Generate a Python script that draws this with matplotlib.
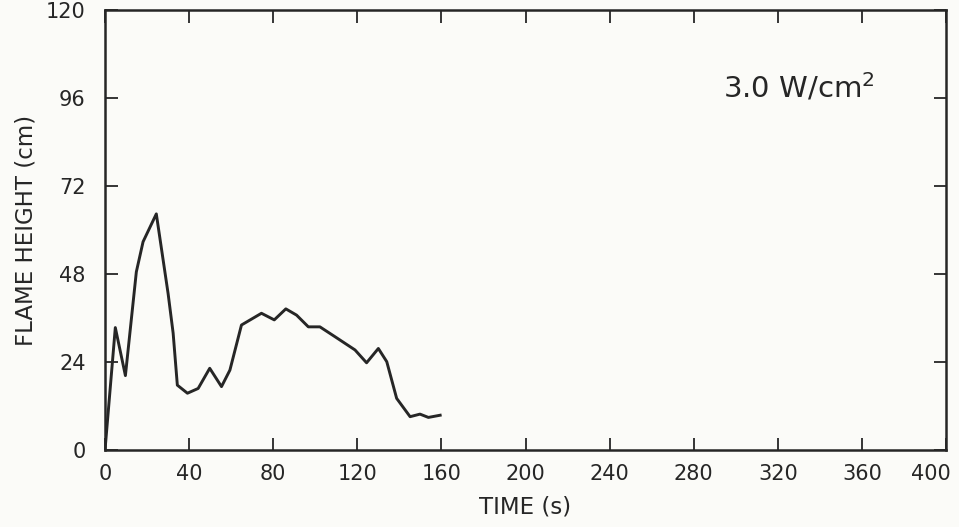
import matplotlib

matplotlib.use("Agg")
import matplotlib.pyplot as plt
from matplotlib.transforms import offset_copy

# flame height history at 3.0 W/cm2
time_s = [0, 4.9, 9.7, 14.9, 18.1, 24.4, 30, 32.4, 34.4, 39.2, 44.3, 49.8, 55.4,
          59.4, 64.9, 74.4, 80.5, 86.0, 91.1, 96.7, 102.2, 109.4, 118.9, 124.4,
          130, 134, 138.7, 145.1, 149.8, 153.8, 159.4]
height_cm = [0, 33.4, 20.3, 48.6, 56.8, 64.4, 42.7, 31.9, 17.7, 15.5, 16.8, 22.3,
             17.3, 21.8, 34.1, 37.3, 35.5, 38.5, 36.8, 33.6, 33.6, 30.9, 27.3, 23.8,
             27.7, 24.1, 14.1, 9.1, 9.8, 8.9, 9.5]
x_ticks = list(range(0, 401, 40))
y_ticks = list(range(0, 121, 24))

INK = "#262626"
PAPER = "#fbfbf8"

plt.rcParams["font.family"] = ["DejaVu Sans"]

fig = plt.figure(figsize=(9.59, 5.27), dpi=100, facecolor=PAPER)
ax = fig.add_axes([0.1095, 0.146, 0.877, 0.835], facecolor=PAPER)

ax.plot(time_s, height_cm, color=INK, lw=2.1, solid_joinstyle="round")

ax.set_xlim(0, 400)
ax.set_ylim(0, 120)
ax.set_xticks(x_ticks)
ax.set_yticks(y_ticks)
ax.tick_params(direction="in", length=9, width=1.3, colors=INK, labelsize=15,
               top=True, right=True)
ax.tick_params(axis="x", pad=10)
ax.tick_params(axis="y", pad=14)
for s in ax.spines.values():
    s.set_linewidth(1.8)
    s.set_color(INK)

# last label sits a little left of its tick, as in the original
last = ax.get_xticklabels()[-1]
fig.canvas.draw()
last.set_transform(offset_copy(last.get_transform(), fig=fig, x=-15, units="dots"))

ax.set_xlabel("TIME (s)", fontsize=16.5, color=INK, labelpad=8)
ax.set_ylabel("FLAME HEIGHT (cm)", fontsize=16.5, color=INK, labelpad=6)
ax.text(0.735, 0.823, "3.0 W/cm$^{2}$", transform=ax.transAxes, fontsize=21,
        color=INK, ha="left", va="center")

fig.savefig("out.png", dpi=100, facecolor=PAPER)
